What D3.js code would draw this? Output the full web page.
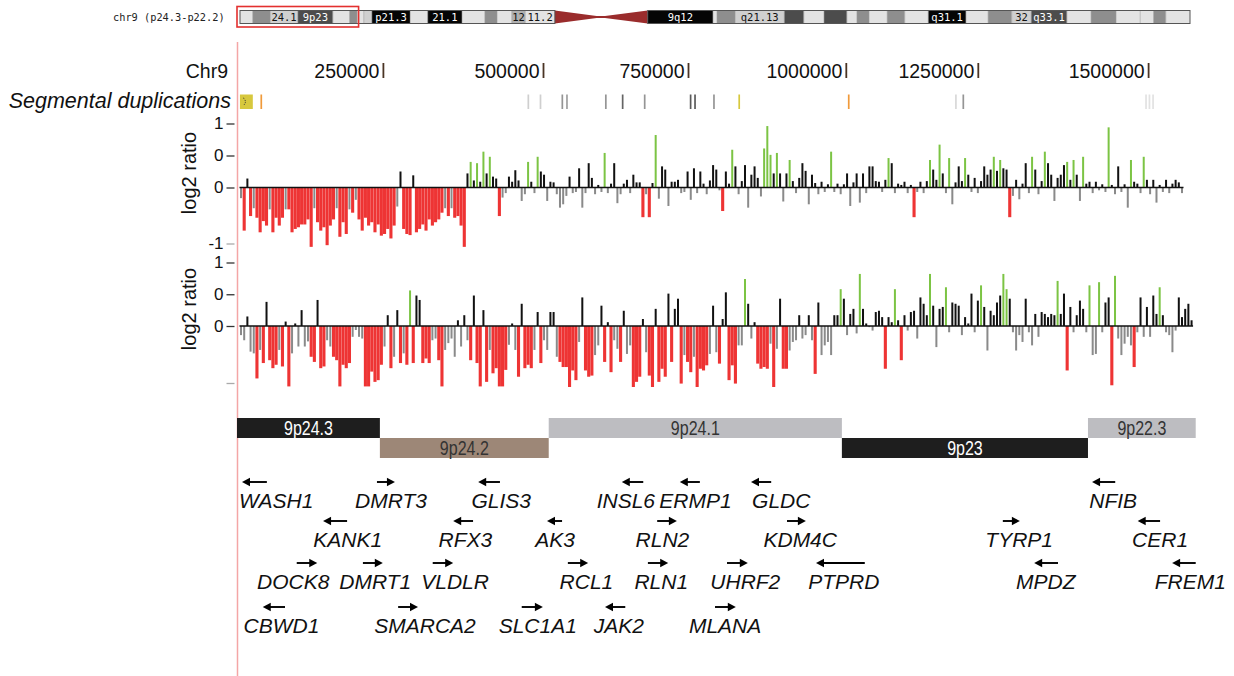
<!DOCTYPE html>
<html><head><meta charset="utf-8">
<script src="https://cdn.jsdelivr.net/npm/d3@7"></script>
<style>
body{margin:0;background:#fff;}
svg{display:block;font-family:"Liberation Sans",Arial,Helvetica,sans-serif;}
</style></head><body>
<svg id="c" width="1234" height="676"></svg>
<script>
// ---------------- DATA ----------------
const chromLabel = "chr9 (p24.3-p22.2)";
const highlightMb = [0, 17.7];
// ideogram bands: [startMb, endMb, stain, label]
const ideoBands = [
[0,1.9,"gneg",""],[1.9,4.5,"gpos50",""],[4.5,8.6,"gpos25","24.1"],[8.6,13.8,"gpos75","9p23"],
[13.8,16.3,"gneg",""],[16.3,17.4,"gpos50",""],[17.4,18.4,"gneg",""],[18.4,19.6,"gpos25",""],
[19.6,25.3,"gpos100","p21.3"],[25.3,27.9,"gneg",""],[27.9,33.0,"gpos100","21.1"],[33.0,36.4,"gneg",""],
[36.4,38.2,"gpos50",""],[38.2,40.4,"gneg",""],[40.4,42.4,"gpos33","12"],[42.4,46.8,"gneg","11.2"],
[46.8,60.6,"acen",""],
[60.6,70.3,"gpos100","9q12"],[70.3,70.9,"gneg",""],[70.9,73.6,"gpos50",""],[73.6,80.9,"gpos25","q21.13"],
[80.9,83.8,"gpos75",""],[83.8,86.8,"gneg",""],[86.8,90.2,"gpos75",""],[90.2,91.7,"gneg",""],
[91.7,93.5,"gpos50",""],[93.5,96.2,"gneg",""],[96.2,98.8,"gpos50",""],[98.8,102.3,"gneg",""],
[102.3,107.9,"gpos100","q31.1"],[107.9,111.2,"gneg",""],[111.2,114.7,"gpos50",""],[114.7,117.6,"gpos25","32"],
[117.6,122.9,"gpos75","q33.1"],[122.9,126.5,"gneg",""],[126.5,130.2,"gpos50",""],[130.2,133.8,"gneg",""],
[133.8,135.8,"gneg",""],[135.8,137.6,"gpos50",""],[137.6,141.2,"gneg",""]
];
const chromLengthMb = 141.2;

const axisTitle = "Chr9";
const genomeTicks = [250000,500000,750000,1000000,1250000,1500000];

const segDupTitle = "Segmental duplications";
// [start bp, end bp, % identity]
const segDups = [
[5000,27000,98.5],[40000,41500,99.5],[475000,476500,91],[494000,495500,91],
[531000,532500,94],[539000,540500,93.5],[606000,607500,94],[635000,636500,96.5],
[673000,674500,94],[752000,753500,97],[759000,760500,97],[789000,790500,94],
[829000,830500,98.3],[1003000,1004500,99.3],[1206000,1207500,90.5],[1220000,1223000,94],
[1495000,1496500,90],[1500000,1501500,90],[1506000,1507500,90]
];

const yTitle = "log2 ratio";
const yTickValues = [1,0.5,0,-1];
const yTickLabels1 = ["1","0","0","-1"];
const yTickLabels2 = ["1","0","0",""];

// probe log2 ratios, sample 1
const ratios1 = [
-0.19,-0.77,0.14,-0.51,-0.37,-0.54,-0.80,-0.60,-0.68,-0.39,
-0.80,-0.54,-0.68,-0.54,-0.39,-0.39,-0.80,-0.74,-0.71,-0.66,
-0.66,-0.57,-1.06,-0.37,-0.62,-0.77,-0.71,-1.03,-0.68,-0.57,
-0.37,-0.88,-0.62,-0.83,-0.39,-0.45,-0.22,-0.57,-0.77,-0.54,
-0.68,-0.62,-0.80,-0.66,-0.86,-0.83,-0.74,-0.91,-0.68,-0.34,
0.25,-0.74,-0.83,-0.85,0.19,-0.80,-0.74,-0.66,-0.77,-0.57,
-0.68,-0.62,-0.57,-0.45,-0.37,-0.51,-0.37,-0.54,-0.51,-0.68,
-1.06,0.22,0.40,0.11,0.38,0.09,0.56,0.22,0.48,0.17,
0.14,-0.51,-0.18,-0.10,0.17,0.09,0.27,0.11,-0.24,-0.12,
0.40,0.09,-0.10,0.48,0.25,0.20,-0.24,0.09,0.08,-0.12,
-0.36,-0.30,-0.15,0.17,-0.10,-0.08,0.30,-0.36,-0.10,0.38,
0.15,-0.12,0.04,-0.08,0.54,-0.10,0.06,0.38,-0.28,-0.12,
0.06,0.12,-0.10,0.20,0.08,0.08,-0.53,-0.12,-0.53,0.07,
0.82,-0.20,0.33,0.28,-0.33,0.09,0.09,0.12,-0.10,-0.08,
0.25,-0.22,0.30,-0.10,0.25,0.06,-0.12,0.11,0.35,0.28,
-0.05,-0.42,0.25,0.06,0.59,0.33,-0.12,0.10,0.35,-0.36,
0.20,0.33,0.15,-0.16,0.61,0.96,0.51,0.22,0.54,0.22,
-0.25,0.22,0.43,0.10,-0.10,0.15,0.38,0.26,-0.30,0.20,
0.07,-0.12,0.09,-0.08,0.05,0.56,-0.08,0.06,-0.12,0.05,
0.22,-0.33,0.08,0.22,-0.27,0.22,-0.10,0.33,0.33,0.10,
0.09,-0.08,0.12,0.46,0.38,-0.10,0.06,0.04,0.09,-0.10,
0.04,-0.53,-0.08,0.09,-0.10,0.10,0.43,0.28,0.12,0.67,
0.22,-0.10,0.46,-0.30,0.08,0.33,0.10,0.46,0.20,-0.08,
0.15,-0.10,0.10,0.33,0.20,0.28,0.48,0.26,0.43,0.30,
0.28,-0.53,-0.15,0.12,-0.21,0.06,0.38,-0.10,0.48,0.28,
-0.12,0.10,0.56,0.38,0.20,-0.24,0.15,0.20,0.35,0.40,
0.12,0.43,0.20,-0.24,0.48,0.06,0.09,-0.10,0.09,-0.05,
0.05,-0.08,0.94,0.04,-0.12,0.33,-0.08,0.05,-0.36,0.43,
0.09,0.06,-0.10,0.48,0.12,-0.12,0.12,-0.27,0.04,-0.08,
0.12,-0.10,0.06,0.12,0.08,-0.10
];
// calls per probe: r = loss, g = gain, n = not called
const calls1 = [
"nrnrnrrrrn","rrrrnrrrrr","rrrnrrrrrr","nrrrnrnrrr","rrrrrrrrrn",
"nrrrnrrrrr","rrrrnrnrrr","rngngngngn","nrnnnnnnnn","gnngnnnnnn",
"nnnnnnnnnn","nnnngnnnnn","nnnnnnrnrn","gnnnnnnnnn","nnnnnnnnnn",
"nrnngnnnnn","nnnngggngn","nngnnnnnnn","nnnnngnnnn","nnnnnnnnnn",
"nnngnnnnnn","nrnnnngnng","nngnnnngnn","nnnnnngngn","nrnnnnnngn",
"nngnnnnnng","ngnngnnnnn","nngnnnnnng","nnngnnnnnn","nnnnnn"
].join("");

// probe log2 ratios, sample 2
const ratios2 = [
-0.16,-0.25,0.15,-0.45,-0.48,-0.92,-0.42,-0.65,0.38,-0.60,
-0.74,-0.68,-0.42,-0.71,0.07,-1.06,-0.48,0.04,-0.36,0.25,
-0.36,-0.27,-0.54,-0.63,0.41,-0.74,-0.71,-0.25,-0.36,-0.54,
-0.60,-1.06,-0.68,-0.74,-0.65,-0.19,-0.07,-0.19,-0.22,-1.06,
-1.06,-0.80,-0.98,-0.95,-0.68,-0.36,0.17,-0.74,-0.54,0.25,
-0.65,-0.48,-0.68,0.56,-0.65,0.48,0.41,-0.65,-0.57,-0.65,
-0.25,-0.22,-0.60,-1.06,-0.42,-0.30,-0.22,-0.54,0.09,-0.36,
0.17,-0.25,-0.60,0.48,-0.65,-1.06,0.25,-0.98,-0.42,-0.83,
-0.74,-1.06,-1.06,-0.77,-0.33,0.04,-0.42,-0.89,0.35,-0.74,
-0.68,-0.74,-0.42,0.22,-0.65,-0.25,-0.42,0.22,0.22,-0.54,
-0.63,-0.72,-0.72,-1.07,-0.78,-0.95,-0.28,0.45,-0.78,-0.89,
-0.87,-0.51,-0.34,0.32,-0.63,0.06,-0.81,-0.25,-0.40,-0.63,
0.24,-0.49,-0.34,-1.07,-0.98,-0.89,0.11,-0.46,-0.87,-1.07,
0.27,-0.98,-0.75,-0.89,0.51,-0.63,0.27,0.43,-1.01,-0.51,
-0.63,-0.81,-0.54,-1.07,-0.75,-0.78,-0.69,-0.49,0.32,-0.46,
-0.66,0.11,0.53,-0.95,-0.69,-1.01,-0.34,-0.34,0.74,0.35,
-0.22,0.06,-0.66,-0.75,-0.72,-0.75,-0.31,-1.07,-0.40,0.43,
-0.75,-0.75,-0.43,-0.28,-0.25,0.17,-0.22,-0.16,0.17,-0.25,
-0.84,0.37,-0.51,-0.34,-0.28,-0.51,0.17,0.17,0.58,0.43,
-0.16,0.19,0.27,-0.13,0.82,0.27,0.04,-0.02,-0.08,0.22,
0.24,0.14,-0.75,0.14,0.06,0.58,0.09,-0.60,0.17,-0.08,
0.22,0.24,-0.22,0.45,0.35,0.17,0.82,0.32,-0.37,0.27,
0.30,0.61,-0.11,0.37,0.35,0.32,-0.16,0.14,0.04,0.51,
-0.11,0.40,0.64,0.30,-0.43,0.24,0.17,0.37,0.48,0.82,
0.58,0.43,-0.11,-0.43,-0.16,-0.28,0.43,-0.11,-0.34,0.19,
-0.19,0.22,0.19,0.14,0.19,0.17,0.71,0.19,0.51,-0.78,
0.30,-0.11,0.17,0.40,0.27,-0.11,0.64,-0.51,-0.49,0.69,
-0.11,0.37,0.45,-1.04,0.79,-0.22,-0.51,-0.31,-0.19,-0.34,
-0.72,-0.11,0.45,-0.19,0.30,-0.19,0.48,0.19,0.61,0.17,
-0.11,-0.16,-0.46,-0.08,0.45,0.14,0.27,0.35,0.09
];
const calls2 = [
"nnnnnrnrnr","rrnrnrnnnn","nnrrnrrnnr","rrrrrnnnnr","rrrrrnnrnn",
"rnrgrnnrrr","nnrrnnnnnn","nnrnrrnrnr","rrrrnnnrnr","rrnnrnnnnn",
"rrrrrrnnrr","rnnnrnrnnr","nnnrrrnnrr","nrrrnrnnrn","rrnrrrrnnn",
"rnnrrrnngn","nnrrrrnrnn","rrnnnnnnnn","rnnnnnnngn","nnnngnnnnn",
"nnrnngnrnn","nnnnnngnnn","ngnnnnnnnn","nngnnnnnng","gnnnnnnnnn",
"nnnnnngnnr","nnnnnngnng","nnnrgnnnnn","rnnnnnnngn","nnnnnnnnn"
].join("");

// cytogenetic bands under the tracks: [name, start bp, end bp, stain, lane]
const cytoBands = [
["9p24.3",0,244000,"gpos100",0],
["9p24.2",244000,509000,"gpos50",1],
["9p24.1",509000,993000,"gneg",0],
["9p23",993000,1411000,"gpos100",1],
["9p22.3",1411000,1578000,"gneg",0]
];

// genes: [name, start bp, end bp, strand, lane, label centre bp]
const genes = [
["WASH1",8500,51000,-1,0,67000],
["DMRT3",239000,268000,1,0,262000],
["GLIS3",398000,432000,-1,0,434000],
["INSL6",635000,672000,-1,0,642000],
["ERMP1",735000,768000,-1,0,761000],
["GLDC",849000,881000,-1,0,897000],
["NFIB",1417000,1451000,-1,0,1448000],
["KANK1",147000,188000,-1,1,189000],
["RFX3",359000,390000,-1,1,378000],
["AK3",506000,532000,-1,1,520000],
["RLN2",696000,730000,1,1,705000],
["KDM4C",906000,936000,1,1,927000],
["TYRP1",1286000,1311000,1,1,1310000],
["CER1",1484000,1519000,-1,1,1519000],
["DOCK8",102000,137000,1,2,96000],
["DMRT1",215000,249000,1,2,236000],
["VLDLR",327000,359000,1,2,362000],
["RCL1",542000,577000,1,2,574000],
["RLN1",680000,715000,1,2,703000],
["UHRF2",811000,844000,1,2,840000],
["PTPRD",952000,1035000,-1,2,996000],
["MPDZ",1332000,1367000,-1,2,1349000],
["FREM1",1539000,1578000,-1,2,1569000],
["CBWD1",44000,82000,-1,3,76000],
["SMARCA2",273000,304000,1,3,315000],
["SLC1A1",466000,499000,1,3,491000],
["JAK2",606000,641000,-1,3,630000],
["MLANA",792000,825000,1,3,808000]
];

// ---------------- CHECKS ----------------
if (ratios1.length !== calls1.length) throw new Error("track1 mismatch " + ratios1.length + " vs " + calls1.length);
if (ratios2.length !== calls2.length) throw new Error("track2 mismatch " + ratios2.length + " vs " + calls2.length);

// ---------------- DRAW ----------------
const svg = d3.select("#c");

// genomic x scale (calibrated to the ruler)
const gx = d3.scaleLinear()
  .domain([0,250000,500000,750000,1000000,1250000,1500000,1600000])
  .range([237,383.4,543.5,688.5,846.3,978.3,1148.6,1209]);
// probe index scale
const px = d3.scaleLinear().domain([0, 295]).range([241, 1182]);
// ideogram scale
const ix = d3.scaleLinear().domain([0, chromLengthMb]).range([240, 1190]);

// ---- Ideogram ----
const ideoTop = 10.5, ideoH = 13;
const stainCol = {gneg:"#e3e3e3", gpos25:"#d0d0d0", gpos33:"#b0b0b0", gpos50:"#8e8e8e", gpos75:"#4c4c4c", gpos100:"#050505", acen:"#9a2c2c"};
svg.append("text").attr("x",113).attr("y",20.5)
  .attr("font-family","'DejaVu Sans Mono',monospace").attr("font-size",10.3).attr("fill","#222")
  .text(chromLabel);
const ideo = svg.append("g");
ideoBands.filter(b=>b[2]!=="acen").forEach(b=>{
  ideo.append("rect").attr("x",ix(b[0])).attr("y",ideoTop)
    .attr("width",ix(b[1])-ix(b[0])).attr("height",ideoH).attr("fill",stainCol[b[2]]);
});
ideoBands.forEach((b,i)=>{
  if(i===0||b[2]==="acen"||ideoBands[i-1][2]==="acen") return;
  ideo.append("line").attr("x1",ix(b[0])).attr("x2",ix(b[0])).attr("y1",ideoTop).attr("y2",ideoTop+ideoH)
    .attr("stroke","#9a9a9a").attr("stroke-width",0.6);
});
ideoBands.filter(b=>b[2]==="acen").forEach(b=>{
  const x0=ix(b[0]), x1=ix(b[1]), w=x1-x0, n0=x0+w*0.45, n1=x0+w*0.54, cy=ideoTop+ideoH/2;
  ideo.append("path").attr("fill",stainCol.acen)
    .attr("d",`M${x0},${ideoTop}L${n0},${cy-0.9}L${n1},${cy-0.9}L${x1},${ideoTop}L${x1},${ideoTop+ideoH}L${n1},${cy+0.9}L${n0},${cy+0.9}L${x0},${ideoTop+ideoH}Z`);
});
ideoBands.filter(b=>b[3]!=="").forEach(b=>{
  ideo.append("text").attr("x",(ix(b[0])+ix(b[1]))/2).attr("y",ideoTop+ideoH/2+3.8)
    .attr("text-anchor","middle").attr("font-family","'DejaVu Sans Mono',monospace").attr("font-size",10.5)
    .attr("fill",(b[2]==="gpos75"||b[2]==="gpos100")?"#fff":"#111").text(b[3]);
});
const pEnd = ideoBands.find(b=>b[2]==="acen");
ideo.append("rect").attr("x",ix(0)).attr("y",ideoTop).attr("width",ix(pEnd[0])-ix(0)).attr("height",ideoH)
  .attr("fill","none").attr("stroke","#555").attr("stroke-width",1);
ideo.append("rect").attr("x",ix(pEnd[1])).attr("y",ideoTop).attr("width",ix(chromLengthMb)-ix(pEnd[1])).attr("height",ideoH)
  .attr("fill","none").attr("stroke","#555").attr("stroke-width",1);
svg.append("rect").attr("x",ix(highlightMb[0])-3).attr("y",6.5)
  .attr("width",ix(highlightMb[1])-ix(highlightMb[0])+2.5).attr("height",20.5)
  .attr("fill","none").attr("stroke","#e3302f").attr("stroke-width",1.6);

// ---- vertical guide line ----
svg.append("line").attr("x1",237.5).attr("x2",237.5).attr("y1",42).attr("y2",676)
  .attr("stroke","#f4a6a6").attr("stroke-width",1.5);

// ---- ruler ----
svg.append("text").attr("x",228).attr("y",78).attr("text-anchor","end").attr("font-size",19.5).attr("fill","#111").text(axisTitle);
const ruler = svg.append("g");
genomeTicks.forEach(v=>{
  ruler.append("line").attr("x1",gx(v)).attr("x2",gx(v)).attr("y1",63).attr("y2",78)
    .attr("stroke","#4a3424").attr("stroke-width",1.8);
  ruler.append("text").attr("x",gx(v)-4).attr("y",78).attr("text-anchor","end")
    .attr("font-size",19.5).attr("fill","#111").text(v);
});

// ---- segmental duplications ----
svg.append("text").attr("x",231).attr("y",108).attr("text-anchor","end").attr("font-style","italic")
  .attr("font-size",21.5).attr("fill","#111").text(segDupTitle);
const grayScale = d3.scaleLinear().domain([90,97.9]).range(["#e2e2e2","#4a4a4a"]);
const sdCol = id => id>=99 ? "#f09a3a" : id>=98 ? "#d7c83e" : grayScale(id);
const sd = svg.append("g");
segDups.forEach(d=>{
  const x0=gx(d[0]), w=Math.max(1.7, gx(d[1])-gx(d[0]));
  sd.append("rect").attr("x",x0).attr("y",94.5).attr("width",w).attr("height",14.5).attr("fill",sdCol(d[2]));
  if (w>8) sd.append("path").attr("d",`M${x0+3.5},${98}Q${x0+7.5},${101.7} ${x0+3.5},${105.5}`)
    .attr("fill","none").attr("stroke","#333").attr("stroke-width",1).attr("stroke-dasharray","1.2,1");
});

// ---- ratio tracks ----
const callCol = (c,v)=> c==="r" ? "#ee3434" : c==="g" ? "#7cc444" : (v>=0 ? "#111" : "#8a8a8a");
const barW = c => c==="r" ? 3.1 : 2.0;
function track(ratios, calls, y, labels, titleY){
  const g = svg.append("g");
  g.selectAll("rect").data(ratios).join("rect")
    .attr("x",(d,i)=>px(i)-barW(calls[i])/2).attr("width",(d,i)=>barW(calls[i]))
    .attr("y",d=>Math.min(y(0),y(d))).attr("height",d=>Math.abs(y(d)-y(0)))
    .attr("fill",(d,i)=>callCol(calls[i],d));
  g.append("line").attr("x1",px(0)-1.5).attr("x2",px(ratios.length-1)+1.5).attr("y1",y(0)).attr("y2",y(0))
    .attr("stroke","#111").attr("stroke-width",1.6);
  const ax = svg.append("g").attr("transform","translate(234.5,0)")
    .call(d3.axisLeft(y).tickValues(yTickValues).tickFormat((d,i)=>labels[i]).tickSize(8).tickPadding(3));
  ax.select(".domain").remove();
  ax.selectAll("text").attr("font-size",17).attr("fill","#111").attr("font-family","'Liberation Sans',Arial,sans-serif");
  ax.selectAll("line").attr("stroke",d=>d<0?"#aaa":"#333").attr("stroke-width",1.3);
  svg.append("text").attr("transform",`translate(196,${titleY}) rotate(-90)`).attr("text-anchor","middle")
    .attr("font-size",20).attr("fill","#111").text(yTitle);
}
const y1 = d3.scaleLinear().domain([-1,0,1]).range([243.5,187.5,123.5]);
const y2 = d3.scaleLinear().domain([-1,0,1]).range([383,326,262.5]);
track(ratios1, calls1, y1, yTickLabels1, 173);
track(ratios2, calls2, y2, yTickLabels2, 309);

// ---- cytoband lane ----
const cytoCol = {gpos100:"#1e1e1e", gpos50:"#9d8777", gneg:"#bdbdc1"};
const laneY = [418, 438];
const cb = svg.append("g");
cytoBands.forEach(b=>{
  const x0=gx(b[1]), x1=gx(b[2]), cx=(x0+x1)/2;
  cb.append("rect").attr("x",x0).attr("y",laneY[b[4]]).attr("width",x1-x0).attr("height",20).attr("fill",cytoCol[b[3]]);
  cb.append("text").attr("transform",`translate(${cx},${laneY[b[4]]+16.5}) scale(0.8,1)`).attr("text-anchor","middle")
    .attr("font-size",20).attr("fill",b[3]==="gpos100"?"#fff":"#333").text(b[0]);
});

// ---- genes ----
const geneBase = [508, 547, 589, 633];
const gg = svg.append("g");
genes.forEach(d=>{
  const x0=gx(d[1]), x1=gx(d[2]), ay=geneBase[d[4]]-26, hl=8, hw=4.3;
  if (d[3]<0){
    gg.append("line").attr("x1",x0+hl-1).attr("x2",x1).attr("y1",ay).attr("y2",ay).attr("stroke","#000").attr("stroke-width",1.9);
    gg.append("path").attr("d",`M${x0},${ay}L${x0+hl},${ay-hw}L${x0+hl},${ay+hw}Z`).attr("fill","#000");
  } else {
    gg.append("line").attr("x1",x0).attr("x2",x1-hl+1).attr("y1",ay).attr("y2",ay).attr("stroke","#000").attr("stroke-width",1.9);
    gg.append("path").attr("d",`M${x1},${ay}L${x1-hl},${ay-hw}L${x1-hl},${ay+hw}Z`).attr("fill","#000");
  }
  gg.append("text").attr("x",gx(d[5])).attr("y",geneBase[d[4]]).attr("text-anchor","middle")
    .attr("font-style","italic").attr("font-size",21).attr("fill","#111").text(d[0]);
});
</script>
</body></html>
